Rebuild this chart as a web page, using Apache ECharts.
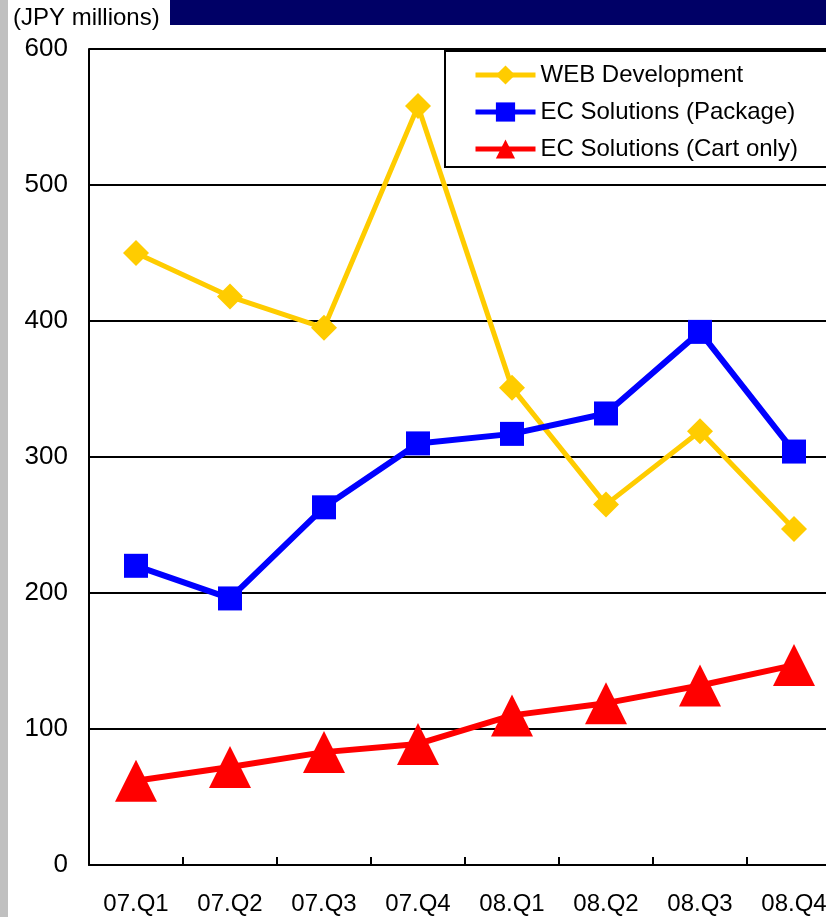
<!DOCTYPE html>
<html>
<head>
<meta charset="utf-8">
<script src="https://cdn.jsdelivr.net/npm/echarts@6/dist/echarts.min.js"></script>
<style>
  html, body { margin: 0; padding: 0; background: #fff; }
  #chart { width: 826px; height: 917px; }
</style>
</head>
<body>
<div id="chart"></div>
<script>
// Quarterly sales by business line (JPY millions)
const quarters = ['07.Q1', '07.Q2', '07.Q3', '07.Q4', '08.Q1', '08.Q2', '08.Q3', '08.Q4'];
const webDevelopment = [450, 418, 395, 558, 351, 265, 319, 247];
const ecPackage = [220, 196, 263, 310, 317, 332, 392, 304];
const ecCartOnly = [62, 72, 83, 89, 110, 119, 132, 147];
const yTicks = { min: 0, max: 600, interval: 100 };
const unitLabel = '(JPY millions)';

const chart = echarts.init(document.getElementById('chart'), null, { renderer: 'canvas' });

const sansFont = '"Liberation Sans", Arial, sans-serif';

chart.setOption({
  animation: false,
  backgroundColor: '#ffffff',
  graphic: [
    // grey strip down the left edge
    { type: 'rect', left: 0, top: 0, shape: { width: 8, height: 917 }, style: { fill: '#c0c0c0' }, silent: true },
    // navy header band
    { type: 'rect', left: 170, top: 0, shape: { width: 656, height: 25 }, style: { fill: '#000066' }, silent: true },
    {
      type: 'text', left: 13, top: 6,
      style: { text: unitLabel, font: '24px ' + sansFont, fill: '#000' }
    }
  ],
  // plot area runs a little past the right edge of the page
  grid: { left: 89, top: 49, width: 752, bottom: 52, containLabel: false, outerBoundsMode: 'none' },
  legend: {
    orient: 'vertical',
    left: 445,
    top: 51,
    padding: [12, 40, 6, 28],
    itemWidth: 60,
    itemHeight: 24,
    itemGap: 13,
    backgroundColor: '#ffffff',
    borderColor: '#000000',
    borderWidth: 2,
    lineStyle: { width: 5 },
    textStyle: { fontFamily: sansFont, fontSize: 24, color: '#000' },
    data: ['WEB Development', 'EC Solutions (Package)', 'EC Solutions (Cart only)']
  },
  xAxis: {
    type: 'category',
    data: quarters,
    boundaryGap: true,
    axisLine: { lineStyle: { color: '#000', width: 2 } },
    axisTick: { show: true, inside: true, length: 8, lineStyle: { color: '#000', width: 2 } },
    axisLabel: { fontFamily: sansFont, fontSize: 24, color: '#000', margin: 27 },
    splitLine: { show: false }
  },
  yAxis: {
    type: 'value',
    min: yTicks.min,
    max: yTicks.max,
    interval: yTicks.interval,
    axisLine: { show: true, lineStyle: { color: '#000', width: 2 } },
    axisTick: { show: false },
    axisLabel: { fontFamily: sansFont, fontSize: 26, color: '#000', margin: 21 },
    splitLine: { show: true, lineStyle: { color: '#000', width: 2 } }
  },
  series: [
    {
      name: 'WEB Development',
      type: 'line',
      data: webDevelopment,
      symbol: 'diamond',
      symbolSize: 26,
      color: '#ffcc00',
      lineStyle: { color: '#ffcc00', width: 5 },
      itemStyle: { color: '#ffcc00' }
    },
    {
      name: 'EC Solutions (Package)',
      type: 'line',
      data: ecPackage,
      symbol: 'rect',
      symbolSize: 24,
      color: '#0000ff',
      lineStyle: { color: '#0000ff', width: 6 },
      itemStyle: { color: '#0000ff' }
    },
    {
      name: 'EC Solutions (Cart only)',
      type: 'line',
      data: ecCartOnly,
      symbol: 'triangle',
      symbolSize: 42,
      color: '#ff0000',
      lineStyle: { color: '#ff0000', width: 6 },
      itemStyle: { color: '#ff0000' }
    }
  ]
});
</script>
</body>
</html>
